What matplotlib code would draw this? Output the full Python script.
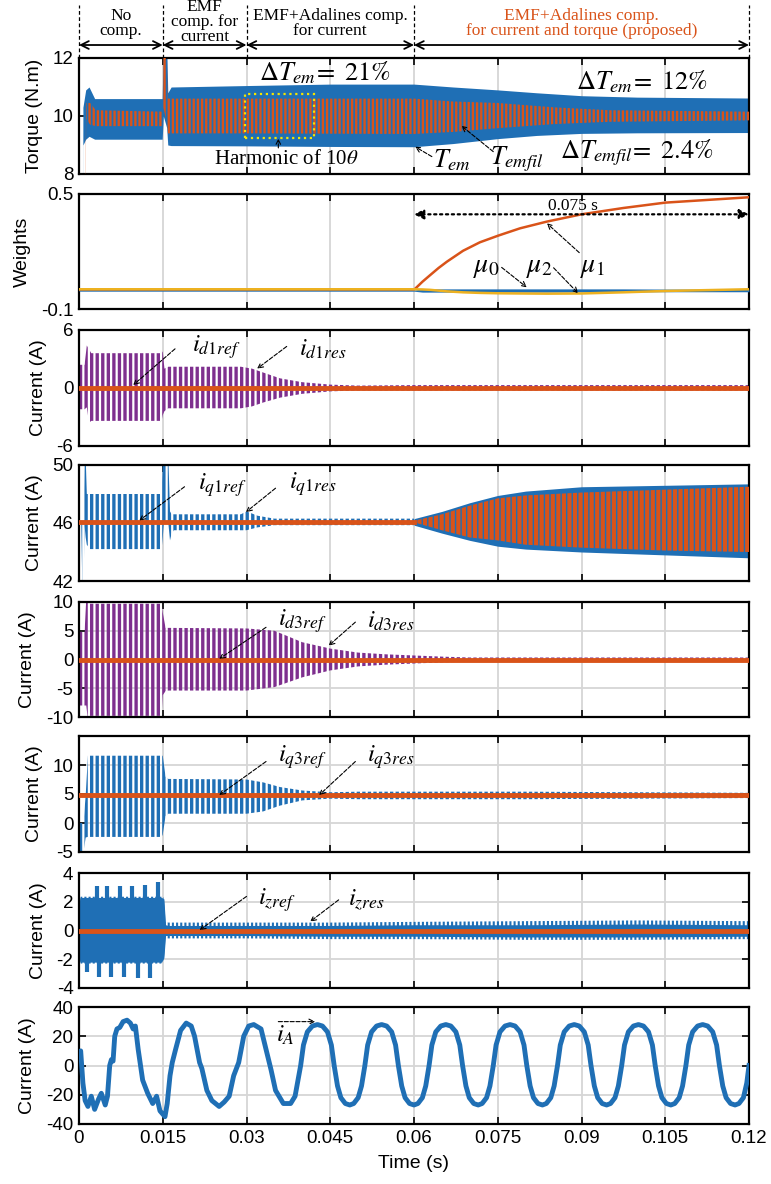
import numpy as np
import matplotlib
matplotlib.use('Agg')
import matplotlib.pyplot as plt
import matplotlib.transforms as mtransforms
from matplotlib.patches import Rectangle

plt.rcParams['font.family'] = ['Liberation Sans', 'DejaVu Sans']
plt.rcParams['mathtext.fontset'] = 'stix'
plt.rcParams['axes.unicode_minus'] = False

BLUE = '#1f6fb5'
ORANGE = '#d95319'
PURPLE = '#7e2f8e'
YELLOW = '#edb120'
GRID = '#d6d6d6'

# ---- data (envelopes of the fast oscillations) ----
x_ticks = [0, 0.015, 0.03, 0.045, 0.06, 0.075, 0.09, 0.105, 0.12]
x_labels = ['0', '0.015', '0.03', '0.045', '0.06', '0.075', '0.09', '0.105', '0.12']
stage_edges = [0, 0.015, 0.03, 0.06, 0.12]

# torque T_em (blue) and T_emfil (orange)
tem_t = [0, 0.0006, 0.0007, 0.0012, 0.0018, 0.0028, 0.0149, 0.0151, 0.0157, 0.0159, 0.0165,
         0.03, 0.045, 0.06, 0.067, 0.075, 0.082, 0.09, 0.10, 0.12]
tem_hi = [0, 0, 10.3, 10.9, 11.0, 10.6, 10.6, 12.5, 12.5, 10.8, 11.0,
          11.05, 11.1, 11.1, 11.0, 10.9, 10.8, 10.7, 10.65, 10.62]
tem_lo = [0, 0, 9.0, 9.2, 9.3, 9.2, 9.2, 10.0, 9.6, 9.0, 8.98,
          8.97, 8.95, 8.94, 9.05, 9.22, 9.33, 9.4, 9.42, 9.43]
fil_t = [0, 0.0007, 0.0013, 0.0020, 0.0030, 0.0149, 0.0151, 0.0157, 0.0159,
         0.03, 0.06, 0.067, 0.075, 0.085, 0.095, 0.12]
fil_hi = [0, 0, 10.45, 10.45, 10.2, 10.15, 12.5, 12.5, 10.6, 10.6, 10.6, 10.5, 10.45, 10.3, 10.2, 10.15]
fil_lo = [0, 0, 9.9, 9.7, 9.65, 9.65, 10.3, 9.8, 9.4, 9.4, 9.38, 9.45, 9.58, 9.72, 9.8, 9.85]
harm_box = [0.0297, 0.0420, 9.25, 10.75]

# Adaline weights
w_t = [0, 0.0600, 0.0615, 0.0629, 0.0644, 0.0659, 0.0688, 0.0718, 0.0751, 0.0790, 0.0838, 0.0900,
       0.0975, 0.1050, 0.1200]
mu1 = [0.0, 0.0, 0.042, 0.077, 0.114, 0.147, 0.204, 0.248, 0.283, 0.321, 0.356, 0.394,
       0.427, 0.455, 0.483]
mu2 = [0.003, 0.003, 0.002, 0.0, -0.004, -0.008, -0.013, -0.016, -0.018, -0.019, -0.02, -0.019,
       -0.013, -0.006, 0.003]
mu0_hi = [-0.001, -0.001, 0.005, 0.005, 0.005, 0.005, 0.005, 0.005, 0.005, 0.005, 0.005, 0.005,
          0.005, 0.004, 0.004]
mu0_lo = [-0.007, -0.007, -0.012, -0.012, -0.012, -0.012, -0.012, -0.012, -0.012, -0.012, -0.012,
          -0.011, -0.011, -0.010, -0.010]

# i_d1
id1_t = [0, 0.0010, 0.0014, 0.0018, 0.0022, 0.0148, 0.0150, 0.0153, 0.0160, 0.0290, 0.0310,
         0.0330, 0.0360, 0.0400, 0.0450, 0.0500, 0.0600, 0.1200]
id1_hi = [2.4, 2.4, 4.4, 4.0, 3.6, 3.6, 3.8, 2.0, 2.2, 2.2, 2.0, 1.6, 1.0, 0.6, 0.35, 0.25, 0.3, 0.3]
id1_lo = [-2.2, -2.2, -2.0, -3.6, -3.4, -3.4, -2.8, -2.4, -2.1, -2.1, -1.9, -1.5, -1.0, -0.6, -0.35,
          -0.25, -0.25, -0.25]
id1_ref = 0.0

# i_q1
iq1_t = [0, 0.0004, 0.0006, 0.0008, 0.0010, 0.0012, 0.0014, 0.0020, 0.0148, 0.0150, 0.0152, 0.0160,
         0.0163, 0.0166, 0.0170, 0.0290, 0.0300, 0.0320, 0.0350, 0.0600, 0.0650, 0.0700, 0.0750,
         0.0800, 0.0900, 0.1050, 0.1200]
iq1_hi = [46.1, 46.1, 46.0, 46.3, 50.5, 50.5, 48.0, 48.0, 48.0, 50.5, 50.5, 50.5, 46.8, 46.6, 46.6,
          46.6, 46.8, 46.5, 46.3, 46.3, 46.8, 47.4, 47.9, 48.2, 48.5, 48.6, 48.7]
iq1_lo = [46.0, 46.0, 41.5, 41.5, 45.8, 45.0, 44.5, 44.2, 44.2, 45.0, 46.0, 46.0, 44.8, 45.3, 45.5,
          45.5, 45.5, 45.7, 45.85, 45.85, 45.3, 44.8, 44.4, 44.2, 44.0, 43.8, 43.6]
iq1r_t = [0, 0.0600, 0.0650, 0.0700, 0.0750, 0.0800, 0.0900, 0.1050, 0.1200]
iq1r_hi = [46.15, 46.15, 46.6, 47.2, 47.7, 47.9, 48.1, 48.3, 48.5]
iq1r_lo = [46.05, 46.05, 45.5, 45.0, 44.8, 44.5, 44.3, 44.1, 44.0]

# i_d3
id3_t = [0, 0.0010, 0.0013, 0.0016, 0.0020, 0.0148, 0.0150, 0.0155, 0.0160, 0.0300, 0.0350,
         0.0400, 0.0450, 0.0500, 0.0550, 0.0600, 0.0650, 0.0700, 0.1200]
id3_hi = [4.8, 4.8, 10.5, 10.5, 9.7, 9.7, 8.2, 5.5, 5.5, 5.4, 5.0, 3.0, 1.9, 1.2, 0.9, 0.7, 0.5, 0.35, 0.35]
id3_lo = [-8.0, -8.0, -8.0, -10.5, -9.8, -9.8, -6.2, -5.5, -5.4, -5.4, -4.8, -3.1, -1.9, -1.2,
          -0.9, -0.7, -0.5, -0.35, -0.35]
id3_ref = 0.0

# i_q3
iq3_t = [0, 0.0006, 0.0008, 0.0012, 0.0016, 0.0148, 0.0150, 0.0155, 0.0160, 0.0300, 0.0330,
         0.0360, 0.0400, 0.0450, 0.0500, 0.0800, 0.1200]
iq3_hi = [0.0, 0.0, 0.0, 4.8, 11.6, 11.6, 11.6, 8.0, 7.6, 7.5, 7.0, 6.2, 5.6, 5.3, 5.4, 5.4, 5.2]
iq3_lo = [-5.0, -5.0, -5.0, -2.5, -2.4, -2.4, -2.0, 1.2, 1.6, 1.6, 2.0, 3.0, 3.9, 4.2, 4.1, 4.1, 4.3]
iq3_ref = 4.75

# i_z: solid core and noisy fringe
iz_t = [0, 0.0003, 0.0148, 0.0152, 0.0155, 0.0160, 0.0300, 0.0450, 0.0600, 0.0800, 0.1000, 0.1200]
iz_hi = [2.0, 2.35, 2.35, 2.3, 0.6, 0.55, 0.55, 0.55, 0.6, 0.65, 0.7, 0.65]
iz_lo = [-2.0, -2.3, -2.3, -2.0, -0.55, -0.55, -0.55, -0.6, -0.6, -0.65, -0.65, -0.6]
iz_core_hi = [2.0, 2.3, 2.3, 2.2, 0.4, 0.35, 0.35, 0.35, 0.4, 0.4, 0.45, 0.4]
iz_core_lo = [-2.0, -2.2, -2.2, -1.9, -0.35, -0.35, -0.35, -0.4, -0.4, -0.45, -0.45, -0.4]
iz_spk_up_t = [0.0032, 0.0051, 0.0073, 0.0095, 0.0119, 0.0141]
iz_spk_up_v = [3.1, 3.1, 3.1, 3.1, 3.2, 3.35]
iz_spk_dn_t = [0.0014, 0.0035, 0.0058, 0.0081, 0.0106, 0.0128]
iz_spk_dn_v = [-2.9, -3.2, -3.2, -3.25, -3.3, -3.3]
iz_ref = 0.0

# phase current i_A
ia_t = [0.0000, 0.0003, 0.0007, 0.0011, 0.0016, 0.0022, 0.0028, 0.0035, 0.0040, 0.0047, 0.0051,
        0.0055, 0.0058, 0.0061, 0.0064, 0.0068, 0.0073, 0.0079, 0.0086, 0.0092, 0.0097, 0.0101,
        0.0106, 0.0114, 0.0123, 0.0132, 0.0139, 0.0145, 0.0154, 0.0158, 0.0163, 0.0167, 0.0173,
        0.0182, 0.0192, 0.0201, 0.0207, 0.0216, 0.0220, 0.0229, 0.0238, 0.0251, 0.0260, 0.0269,
        0.0277, 0.0286, 0.0295, 0.0304, 0.0313, 0.0326, 0.0335, 0.0344, 0.0352, 0.0366, 0.0379,
        0.0387, 0.0397,
        0.0402, 0.0409, 0.0418, 0.0427, 0.0436, 0.0445, 0.0452, 0.0457, 0.0463, 0.0469, 0.0477,
        0.0485, 0.0492, 0.0500, 0.0506,
        0.0512, 0.0517, 0.0524, 0.0533, 0.0542, 0.0551, 0.0560, 0.0567, 0.0572, 0.0578, 0.0584,
        0.0592, 0.0600, 0.0607, 0.0615, 0.0621,
        0.0627, 0.0632, 0.0639, 0.0648, 0.0657, 0.0666, 0.0675, 0.0682, 0.0687, 0.0693, 0.0699,
        0.0707, 0.0715, 0.0722, 0.0730, 0.0736,
        0.0742, 0.0747, 0.0754, 0.0763, 0.0772, 0.0781, 0.0790, 0.0797, 0.0802, 0.0808, 0.0814,
        0.0822, 0.0830, 0.0837, 0.0845, 0.0851,
        0.0857, 0.0862, 0.0869, 0.0878, 0.0887, 0.0896, 0.0905, 0.0912, 0.0917, 0.0923, 0.0929,
        0.0937, 0.0945, 0.0952, 0.0960, 0.0966,
        0.0972, 0.0977, 0.0984, 0.0993, 0.1002, 0.1011, 0.1020, 0.1027, 0.1032, 0.1038, 0.1044,
        0.1052, 0.1060, 0.1067, 0.1075, 0.1081,
        0.1087, 0.1092, 0.1099, 0.1108, 0.1117, 0.1126, 0.1135, 0.1142, 0.1147, 0.1153, 0.1159,
        0.1167, 0.1175, 0.1182, 0.1190, 0.1196, 0.1200]
ia_v = [6, 10, -12, -24, -28, -21, -30, -23, -19, -27, -21,
        0, 4, 3, 20, 25, 26, 30, 31, 29, 25, 27,
        11, -10, -19, -26, -21, -31, -35, -26, -7, 2, 11,
        24, 29, 27, 20, 2, -2, -17, -24, -28, -25, -21,
        -7, 2, 20, 27, 28, 25, 11, -3, -17, -26, -26,
        -21, 0,
        14, 23, 27, 28, 27, 23, 14, 0, -14, -22, -26,
        -27, -26, -22, -14,
        0, 14, 23, 27, 28, 27, 23, 14, 0, -14, -22,
        -26, -27, -26, -22, -14,
        0, 14, 23, 27, 28, 27, 23, 14, 0, -14, -22,
        -26, -27, -26, -22, -14,
        0, 14, 23, 27, 28, 27, 23, 14, 0, -14, -22,
        -26, -27, -26, -22, -14,
        0, 14, 23, 27, 28, 27, 23, 14, 0, -14, -22,
        -26, -27, -26, -22, -14,
        0, 14, 23, 27, 28, 27, 23, 14, 0, -14, -22,
        -26, -27, -26, -22, -14,
        0, 14, 23, 27, 28, 27, 23, 14, 0, -14, -22,
        -26, -27, -26, -22, -12, 0]

# ---- layout ----
W, H = 771, 1184
fig = plt.figure(figsize=(W / 100, H / 100), dpi=100)
left, right = 79, 749
panels = [(58, 174), (194, 309), (330, 446), (465, 581), (602, 717), (736, 852), (873, 988), (1007, 1124)]
axs = [fig.add_axes([left / W, 1 - b / H, (right - left) / W, (b - t) / H]) for t, b in panels]


def style(ax, ylim, yticks, ylabel, bottom=False):
    ax.set_xlim(0, 0.12)
    ax.set_ylim(*ylim)
    ax.set_yticks(yticks)
    ax.set_xticks(x_ticks)
    if bottom:
        ax.set_xticklabels(x_labels)
        ax.set_xlabel('Time (s)', fontsize=14, labelpad=6)
    else:
        ax.set_xticklabels([])
    ax.grid(True, color=GRID, lw=1.3)
    ax.set_axisbelow(True)
    ax.tick_params(direction='in', top=True, right=True, length=5, width=1.2, labelsize=13.5, pad=4)
    for s in ax.spines.values():
        s.set_linewidth(1.6)
    ax.set_ylabel(ylabel, fontsize=14, labelpad=7)


def band(ax, t, lo, hi, color, hatch=None, hlw=2.0, where=None, z=2):
    plt.rcParams['hatch.linewidth'] = hlw
    plt.rcParams['hatch.color'] = color
    if hatch:
        pc = ax.fill_between(t, lo, hi, where=where, facecolor='none', edgecolor=color,
                             linewidth=0, hatch=hatch, zorder=z)
    else:
        pc = ax.fill_between(t, lo, hi, where=where, color=color, linewidth=0, zorder=z)
    if hasattr(pc, 'set_hatch_linewidth'):
        pc.set_hatch_linewidth(hlw)
    return pc


def note(ax, text, xy_text, start, tip, size=18):
    ax.text(xy_text[0], xy_text[1], text, ha='center', va='center', fontsize=size, zorder=6)
    ax.annotate('', xy=tip, xytext=start,
                arrowprops=dict(arrowstyle='->', ls='--', lw=0.8, color='k',
                                shrinkA=0, shrinkB=0, mutation_scale=9), zorder=6)


# ---- panel 1: torque ----
ax = axs[0]
band(ax, tem_t, tem_lo, tem_hi, BLUE)
band(ax, fil_t, fil_lo, fil_hi, ORANGE, hatch='||||', hlw=1.7, z=3)
ax.add_patch(Rectangle((harm_box[0], harm_box[2]), harm_box[1] - harm_box[0], harm_box[3] - harm_box[2],
                       fill=False, ec='#f5e400', ls=':', lw=1.6, zorder=4))
style(ax, (8, 12), [8, 10, 12], 'Torque (N.m)')
ax.text(0.0322, 11.48, r'$\Delta T_{em}\!=\ 21\%$', fontsize=19, ha='left', va='center', zorder=6)
ax.text(0.0890, 11.2, r'$\Delta T_{em}\!=\ 12\%$', fontsize=19, ha='left', va='center', zorder=6)
ax.text(0.0862, 8.72, r'$\Delta T_{emfil}\!=\ 2.4\%$', fontsize=19, ha='left', va='center', zorder=6)
ax.text(0.0372, 8.5, r'Harmonic of 10$\theta$', fontsize=15, ha='center', va='center',
        family='Liberation Serif', zorder=6)
ax.annotate('', xy=(0.0357, 9.22), xytext=(0.0357, 8.9),
            arrowprops=dict(arrowstyle='->', ls='--', lw=0.8, color='k', shrinkA=0, shrinkB=0,
                            mutation_scale=8))
note(ax, r'$T_{em}$', (0.0668, 8.48), (0.0632, 8.6), (0.0602, 8.94), size=19)
note(ax, r'$T_{emfil}$', (0.0785, 8.52), (0.0742, 8.77), (0.0685, 9.66), size=19)

# header above the first panel
trans = mtransforms.blended_transform_factory(ax.transData, ax.transAxes)
for xe in stage_edges:
    ax.plot([xe, xe], [1.0, 1.46], transform=trans, ls=(0, (3, 2)), color='k', lw=0.9, clip_on=False)
for x0, x1 in zip(stage_edges[:-1], stage_edges[1:]):
    ax.annotate('', xy=(x1, 1.112), xytext=(x0, 1.112), xycoords=trans, textcoords=trans,
                arrowprops=dict(arrowstyle='<->', lw=1.3, color='k', shrinkA=0, shrinkB=0,
                                mutation_scale=14), annotation_clip=False)
hdr = dict(transform=trans, ha='center', va='center', family='Liberation Serif', fontsize=12.5,
           linespacing=0.92, clip_on=False)
ax.text(0.0075, 1.30, 'No\ncomp.', **hdr)
ax.text(0.0225, 1.31, 'EMF\ncomp. for\ncurrent', **hdr)
ax.text(0.045, 1.30, 'EMF+Adalines comp.\nfor current', **hdr)
ax.text(0.09, 1.30, 'EMF+Adalines comp.\nfor current and torque (proposed)', color=ORANGE, **hdr)

# ---- panel 2: weights ----
ax = axs[1]
ax.plot(w_t, mu1, color=ORANGE, lw=1.8, zorder=3)
band(ax, w_t, mu0_lo, mu0_hi, BLUE, z=3)
ax.plot(w_t, mu2, color=YELLOW, lw=1.8, zorder=4)
style(ax, (-0.1, 0.5), [-0.1, 0.5], 'Weights')
ax.annotate('', xy=(0.12, 0.394), xytext=(0.06, 0.394),
            arrowprops=dict(arrowstyle='<|-|>', ls=':', lw=1.6, color='k', shrinkA=0, shrinkB=0,
                            mutation_scale=14))
ax.text(0.0885, 0.44, '0.075 s', fontsize=12.5, ha='center', va='center', family='Liberation Serif')
note(ax, r'$\mu_0$', (0.073, 0.117), (0.0757, 0.117), (0.0802, 0.013), size=20)
note(ax, r'$\mu_2$', (0.0825, 0.117), (0.085, 0.115), (0.0894, -0.018), size=20)
note(ax, r'$\mu_1$', (0.0919, 0.117), (0.0896, 0.194), (0.0838, 0.347), size=20)

# ---- panel 3: i_d1 ----
ax = axs[2]
band(ax, id1_t, id1_lo, id1_hi, PURPLE, hatch='|||', hlw=2.4)
ax.plot([0, 0.12], [id1_ref, id1_ref], color=ORANGE, lw=3.5, zorder=4)
style(ax, (-6, 6), [-6, 0, 6], 'Current (A)')
note(ax, r'$i_{d1ref}$', (0.0246, 4.2), (0.0172, 4.05), (0.0097, 0.3))
note(ax, r'$i_{d1res}$', (0.0436, 4.0), (0.0372, 4.3), (0.0319, 2.0))

# ---- panel 4: i_q1 ----
ax = axs[3]
t_arr = np.array(iq1_t)
band(ax, iq1_t, iq1_lo, iq1_hi, BLUE, hatch='|||', hlw=2.4, where=t_arr <= 0.06)
band(ax, iq1_t, iq1_lo, iq1_hi, BLUE, where=t_arr >= 0.06)
tr_arr = np.array(iq1r_t)
band(ax, iq1r_t, iq1r_lo, iq1r_hi, ORANGE, hatch='|||', hlw=3.0, where=tr_arr >= 0.06, z=3)
ax.plot(iq1r_t[:2], [(iq1r_hi[0] + iq1r_lo[0]) / 2] * 2, color=ORANGE, lw=3.5, zorder=4)
style(ax, (42, 50), [42, 46, 50], 'Current (A)')
note(ax, r'$i_{q1ref}$', (0.0257, 48.6), (0.0189, 48.5), (0.0108, 46.17))
note(ax, r'$i_{q1res}$', (0.0418, 48.7), (0.0352, 48.4), (0.0299, 46.75))

# ---- panel 5: i_d3 ----
ax = axs[4]
band(ax, id3_t, id3_lo, id3_hi, PURPLE, hatch='|||', hlw=2.4)
ax.plot([0, 0.12], [id3_ref, id3_ref], color=ORANGE, lw=3.5, zorder=4)
style(ax, (-10, 10), [-10, -5, 0, 5, 10], 'Current (A)')
note(ax, r'$i_{d3ref}$', (0.0400, 6.7), (0.0335, 5.6), (0.0251, 0.1))
note(ax, r'$i_{d3res}$', (0.0559, 6.7), (0.0495, 6.5), (0.0447, 2.4))

# ---- panel 6: i_q3 ----
ax = axs[5]
band(ax, iq3_t, iq3_lo, iq3_hi, BLUE, hatch='|||', hlw=2.4)
ax.plot([0, 0.12], [iq3_ref, iq3_ref], color=ORANGE, lw=3.5, zorder=4)
style(ax, (-5, 15), [-5, 0, 5, 10], 'Current (A)')
note(ax, r'$i_{q3ref}$', (0.0400, 11.3), (0.0335, 10.6), (0.0251, 4.8))
note(ax, r'$i_{q3res}$', (0.0559, 11.3), (0.0495, 10.6), (0.043, 4.8))

# ---- panel 7: i_z ----
ax = axs[6]
band(ax, iz_t, iz_lo, iz_hi, BLUE, hatch='||||', hlw=1.5)
band(ax, iz_t, iz_core_lo, iz_core_hi, BLUE)
ax.vlines(iz_spk_up_t, 0, iz_spk_up_v, color=BLUE, lw=3, zorder=2)
ax.vlines(iz_spk_dn_t, 0, iz_spk_dn_v, color=BLUE, lw=3, zorder=2)
ax.plot([0, 0.12], [iz_ref, iz_ref], color=ORANGE, lw=3.5, zorder=4)
style(ax, (-4, 4), [-4, -2, 0, 2, 4], 'Current (A)')
note(ax, r'$i_{zref}$', (0.0354, 2.1), (0.030, 2.37), (0.0216, 0.03))
note(ax, r'$i_{zres}$', (0.0515, 2.1), (0.0465, 2.13), (0.0414, 0.62))

# ---- panel 8: i_A ----
ax = axs[7]
ax.plot(ia_t, ia_v, color=BLUE, lw=3.5, solid_joinstyle='round', zorder=3)
style(ax, (-40, 40), [-40, -20, 0, 20, 40], 'Current (A)', bottom=True)
ax.text(0.0370, 21, r'$i_A$', fontsize=18, ha='center', va='center', zorder=6)
ax.annotate('', xy=(0.0423, 30), xytext=(0.0357, 30),
            arrowprops=dict(arrowstyle='->', ls='--', lw=0.8, color='k', shrinkA=0, shrinkB=0,
                            mutation_scale=9))

fig.savefig('out.png', dpi=100)
